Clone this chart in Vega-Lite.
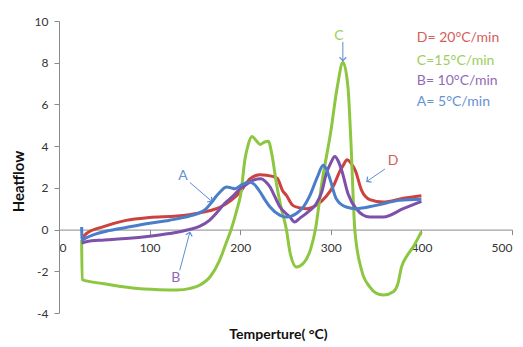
{
  "$schema": "https://vega.github.io/schema/vega-lite/v6.json",
  "width": 453,
  "height": 292,
  "autosize": {"type": "none"},
  "padding": {"left": 59, "top": 21, "right": 11, "bottom": 34},
  "background": "white",
  "config": {"view": {"stroke": null}, "font": "Lato"},
  "datasets": {
    "curves": [
      {"series":"D","T":25,"H":-0.45},{"series":"D","T":30,"H":-0.2},{"series":"D","T":50,"H":0.15},{"series":"D","T":74,"H":0.44},{"series":"D","T":100,"H":0.58},{"series":"D","T":130,"H":0.65},{"series":"D","T":155,"H":0.8},{"series":"D","T":170,"H":0.95},{"series":"D","T":178,"H":1.08},{"series":"D","T":190,"H":1.4},{"series":"D","T":200,"H":1.8},{"series":"D","T":211,"H":2.44},{"series":"D","T":222,"H":2.63},{"series":"D","T":236,"H":2.55},{"series":"D","T":241,"H":2.45},{"series":"D","T":247,"H":1.85},{"series":"D","T":251,"H":1.64},{"series":"D","T":258,"H":1.16},{"series":"D","T":265,"H":1.05},{"series":"D","T":273,"H":1.0},{"series":"D","T":285,"H":1.2},{"series":"D","T":295,"H":1.6},{"series":"D","T":303,"H":2.1},{"series":"D","T":310,"H":2.8},{"series":"D","T":314,"H":3.1},{"series":"D","T":318,"H":3.35},{"series":"D","T":322,"H":3.2},{"series":"D","T":327,"H":2.84},{"series":"D","T":334,"H":1.88},{"series":"D","T":343,"H":1.44},{"series":"D","T":358,"H":1.32},{"series":"D","T":380,"H":1.5},{"series":"D","T":400,"H":1.62},
      {"series":"C","T":25,"H":-0.5},{"series":"C","T":25.5,"H":-2.4},{"series":"C","T":50,"H":-2.6},{"series":"C","T":81,"H":-2.8},{"series":"C","T":110,"H":-2.88},{"series":"C","T":130,"H":-2.9},{"series":"C","T":145,"H":-2.82},{"series":"C","T":155,"H":-2.67},{"series":"C","T":167,"H":-2.25},{"series":"C","T":177,"H":-1.5},{"series":"C","T":184,"H":-0.7},{"series":"C","T":190,"H":0},{"series":"C","T":196,"H":0.9},{"series":"C","T":201,"H":1.8},{"series":"C","T":205,"H":3.3},{"series":"C","T":209,"H":4.1},{"series":"C","T":213,"H":4.46},{"series":"C","T":218,"H":4.25},{"series":"C","T":222,"H":4.08},{"series":"C","T":227,"H":4.2},{"series":"C","T":231,"H":4.24},{"series":"C","T":235,"H":3.6},{"series":"C","T":240,"H":2.2},{"series":"C","T":245,"H":1.08},{"series":"C","T":251,"H":0},{"series":"C","T":255,"H":-1.1},{"series":"C","T":262,"H":-1.79},{"series":"C","T":270,"H":-1.6},{"series":"C","T":278,"H":-0.9},{"series":"C","T":283,"H":0},{"series":"C","T":290,"H":2.2},{"series":"C","T":300,"H":4.7},{"series":"C","T":307,"H":6.8},{"series":"C","T":313.5,"H":8.02},{"series":"C","T":319,"H":6.8},{"series":"C","T":322,"H":4.4},{"series":"C","T":326.5,"H":0},{"series":"C","T":334,"H":-1.95},{"series":"C","T":343,"H":-2.75},{"series":"C","T":350,"H":-3.05},{"series":"C","T":358,"H":-3.14},{"series":"C","T":369,"H":-2.98},{"series":"C","T":374,"H":-2.6},{"series":"C","T":378,"H":-1.8},{"series":"C","T":385,"H":-1.2},{"series":"C","T":391,"H":-0.83},{"series":"C","T":400,"H":-0.1},
      {"series":"B","T":25,"H":-0.65},{"series":"B","T":30,"H":-0.58},{"series":"B","T":50,"H":-0.5},{"series":"B","T":74,"H":-0.43},{"series":"B","T":100,"H":-0.32},{"series":"B","T":122,"H":-0.19},{"series":"B","T":144,"H":0.0},{"series":"B","T":155,"H":0.15},{"series":"B","T":166,"H":0.44},{"series":"B","T":175,"H":0.85},{"series":"B","T":183,"H":1.26},{"series":"B","T":192,"H":1.6},{"series":"B","T":200,"H":1.96},{"series":"B","T":208,"H":2.2},{"series":"B","T":214,"H":2.36},{"series":"B","T":223,"H":2.44},{"series":"B","T":228,"H":2.3},{"series":"B","T":233,"H":2.04},{"series":"B","T":238,"H":1.6},{"series":"B","T":244,"H":1.08},{"series":"B","T":255,"H":0.6},{"series":"B","T":260,"H":0.36},{"series":"B","T":266,"H":0.55},{"series":"B","T":275,"H":0.85},{"series":"B","T":284,"H":1.24},{"series":"B","T":290,"H":1.8},{"series":"B","T":295,"H":2.68},{"series":"B","T":300,"H":3.2},{"series":"B","T":304.5,"H":3.5},{"series":"B","T":308,"H":3.3},{"series":"B","T":312,"H":2.84},{"series":"B","T":319,"H":1.72},{"series":"B","T":328,"H":1.0},{"series":"B","T":343,"H":0.6},{"series":"B","T":358,"H":0.6},{"series":"B","T":380,"H":1.0},{"series":"B","T":400,"H":1.35},
      {"series":"A","T":25,"H":0.12},{"series":"A","T":25.5,"H":-0.5},{"series":"A","T":30,"H":-0.4},{"series":"A","T":37,"H":-0.27},{"series":"A","T":55,"H":-0.05},{"series":"A","T":74,"H":0.1},{"series":"A","T":100,"H":0.3},{"series":"A","T":122,"H":0.45},{"series":"A","T":145,"H":0.66},{"series":"A","T":155,"H":0.8},{"series":"A","T":162,"H":0.98},{"series":"A","T":168,"H":1.28},{"series":"A","T":174,"H":1.62},{"series":"A","T":179,"H":1.86},{"series":"A","T":185,"H":2.04},{"series":"A","T":190,"H":2.0},{"series":"A","T":194,"H":1.96},{"series":"A","T":202,"H":2.15},{"series":"A","T":210,"H":2.28},{"series":"A","T":216,"H":2.15},{"series":"A","T":222,"H":1.8},{"series":"A","T":227,"H":1.45},{"series":"A","T":233,"H":1.08},{"series":"A","T":244,"H":0.68},{"series":"A","T":251,"H":0.6},{"series":"A","T":262,"H":0.77},{"series":"A","T":270,"H":1.1},{"series":"A","T":277,"H":1.64},{"series":"A","T":285,"H":2.5},{"series":"A","T":291.6,"H":3.08},{"series":"A","T":295,"H":2.9},{"series":"A","T":299,"H":2.44},{"series":"A","T":306,"H":1.48},{"series":"A","T":317,"H":1.08},{"series":"A","T":328,"H":1.0},{"series":"A","T":350,"H":1.16},{"series":"A","T":376,"H":1.4},{"series":"A","T":400,"H":1.45}
    ],
    "arrows": [
      {"series":"C","tx":309,"ty":9.3,"x1":313.3,"y1":9.0,"x2":313.3,"y2":8.1},
      {"series":"A","tx":136.8,"ty":2.55,"x1":144.4,"y1":2.26,"x2":168.7,"y2":1.35},
      {"series":"B","tx":129,"ty":-2.33,"x1":133.3,"y1":-1.95,"x2":144.4,"y2":-0.13},
      {"series":"D","tx":368.8,"ty":3.3,"x1":359.7,"y1":2.9,"x2":339.8,"y2":2.31}
    ],
    "legendText": [
      {"series":"D","text":"D= 20°C/min","lx":395,"ly":9.2},
      {"series":"C","text":"C=15°C/min","lx":395,"ly":8.1},
      {"series":"B","text":"B= 10°C/min","lx":395,"ly":7.1},
      {"series":"A","text":"A= 5°C/min","lx":395,"ly":6.14}
    ]
  },
  "layer": [
    {
      "mark": {"type": "rule", "color": "#BDBDBD", "strokeWidth": 1.5},
      "encoding": {"y": {"datum": -4, "type": "quantitative"}}
    },
    {
      "data": {"name": "curves"},
      "mark": {"type": "line", "strokeWidth": 3, "interpolate": "monotone"},
      "encoding": {
        "x": {
          "field": "T", "type": "quantitative",
          "scale": {"domain": [0, 500], "nice": false, "zero": false},
          "axis": {
            "values": [0, 100, 200, 300, 400, 500],
            "offset": -83.4,
            "grid": false,
            "domainColor": "#8A8A8A", "tickColor": "#8A8A8A", "tickSize": 5,
            "labelFontSize": 12, "labelColor": "#333333", "labelPadding": 8,
            "title": "Temperture( °C)", "titleFontSize": 14, "titleFontWeight": "bold",
            "titleColor": "#111111", "titleBaseline": "middle", "titleY": 105, "titleX": 219
          }
        },
        "y": {
          "field": "H", "type": "quantitative",
          "scale": {"domain": [-4, 10], "nice": false, "zero": false},
          "axis": {
            "values": [-4, -2, 0, 2, 4, 6, 8, 10],
            "labelExpr": "replace(datum.label, '\u2212', '-')",
            "grid": false,
            "domainColor": "#8A8A8A", "tickColor": "#8A8A8A", "tickSize": 5,
            "labelFontSize": 12, "labelColor": "#333333", "labelPadding": 6,
            "title": "Heatflow", "titleFontSize": 15, "titleFontWeight": "bold",
            "titleColor": "#111111", "titleBaseline": "middle", "titleX": -41, "titleY": 160
          }
        },
        "color": {
          "field": "series", "type": "nominal",
          "scale": {"domain": ["A", "B", "C", "D"], "range": ["#4A7EC8", "#7E50A9", "#8DC641", "#CC423E"]},
          "legend": null
        }
      }
    },
    {
      "data": {"name": "arrows"},
      "mark": {"type": "rule", "color": "#5B8DD6", "strokeWidth": 1},
      "encoding": {
        "x": {"field": "x1", "type": "quantitative"},
        "y": {"field": "y1", "type": "quantitative"},
        "x2": {"field": "x2"},
        "y2": {"field": "y2"}
      }
    },
    {
      "data": {"name": "arrows"},
      "transform": [{"filter": "datum.series === 'C'"}],
      "mark": {"type": "point", "shape": "M-1,1L0,0L1,1", "filled": false, "stroke": "#5B8DD6", "strokeWidth": 1.2, "size": 45, "angle": 180, "opacity": 1},
      "encoding": {"x": {"field": "x2", "type": "quantitative"}, "y": {"field": "y2", "type": "quantitative"}}
    },
    {
      "data": {"name": "arrows"},
      "transform": [{"filter": "datum.series === 'A'"}],
      "mark": {"type": "point", "shape": "M-1,1L0,0L1,1", "filled": false, "stroke": "#5B8DD6", "strokeWidth": 1.2, "size": 45, "angle": 131, "opacity": 1},
      "encoding": {"x": {"field": "x2", "type": "quantitative"}, "y": {"field": "y2", "type": "quantitative"}}
    },
    {
      "data": {"name": "arrows"},
      "transform": [{"filter": "datum.series === 'B'"}],
      "mark": {"type": "point", "shape": "M-1,1L0,0L1,1", "filled": false, "stroke": "#5B8DD6", "strokeWidth": 1.2, "size": 45, "angle": 15, "opacity": 1},
      "encoding": {"x": {"field": "x2", "type": "quantitative"}, "y": {"field": "y2", "type": "quantitative"}}
    },
    {
      "data": {"name": "arrows"},
      "transform": [{"filter": "datum.series === 'D'"}],
      "mark": {"type": "point", "shape": "M-1,1L0,0L1,1", "filled": false, "stroke": "#5B8DD6", "strokeWidth": 1.2, "size": 45, "angle": 234, "opacity": 1},
      "encoding": {"x": {"field": "x2", "type": "quantitative"}, "y": {"field": "y2", "type": "quantitative"}}
    },
    {
      "data": {"name": "arrows"},
      "mark": {"type": "text", "fontSize": 14, "opacity": 0.85, "align": "center", "baseline": "middle"},
      "encoding": {
        "x": {"field": "tx", "type": "quantitative"},
        "y": {"field": "ty", "type": "quantitative"},
        "text": {"field": "series"},
        "color": {"field": "series", "type": "nominal", "legend": null}
      }
    },
    {
      "data": {"name": "legendText"},
      "mark": {"type": "text", "fontSize": 14, "opacity": 0.85, "align": "left", "baseline": "middle"},
      "encoding": {
        "x": {"field": "lx", "type": "quantitative"},
        "y": {"field": "ly", "type": "quantitative"},
        "text": {"field": "text"},
        "color": {"field": "series", "type": "nominal", "legend": null}
      }
    }
  ]
}
